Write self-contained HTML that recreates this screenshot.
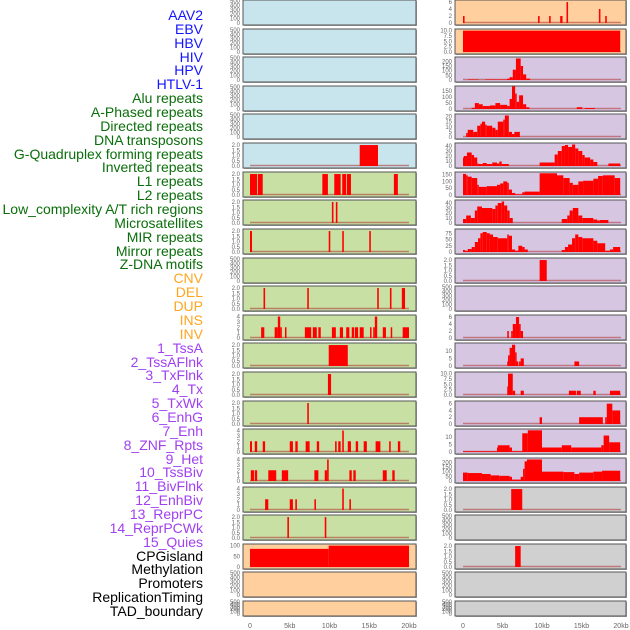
<!DOCTYPE html>
<html><head><meta charset="utf-8"><style>
html,body{margin:0;padding:0;background:#fff;}
body{width:630px;height:630px;overflow:hidden;position:relative;font-family:"Liberation Sans",sans-serif;}
#labels div{position:absolute;right:427px;font-size:14px;line-height:14px;white-space:nowrap;}
</style></head><body>
<div id="labels"></div>
<svg id="chart" width="630" height="630" style="position:absolute;left:0;top:0"></svg>
<script>
const labelNames=["AAV2","EBV","HBV","HIV","HPV","HTLV-1","Alu repeats","A-Phased repeats","Directed repeats","DNA transposons","G-Quadruplex forming repeats","Inverted repeats","L1 repeats","L2 repeats","Low_complexity A/T rich regions","Microsatellites","MIR repeats","Mirror repeats","Z-DNA motifs","CNV","DEL","DUP","INS","INV","1_TssA","2_TssAFlnk","3_TxFlnk","4_Tx","5_TxWk","6_EnhG","7_Enh","8_ZNF_Rpts","9_Het","10_TssBiv","11_BivFlnk","12_EnhBiv","13_ReprPC","14_ReprPCWk","15_Quies","CPGisland","Methylation","Promoters","ReplicationTiming","TAD_boundary"];
const labelGroups=[0,0,0,0,0,0,1,1,1,1,1,1,1,1,1,1,1,1,1,2,2,2,2,2,3,3,3,3,3,3,3,3,3,3,3,3,3,3,3,4,4,4,4,4];
const groupColors=["#1414ff","#0a6e0a","#ffa520","#a040f0","#000"];

// Left column tracks: starts (kb) and values, each segment runs to next start
const L_starts=[
 null,null,null,null,null,
 [13.8,16.1],
 [0,0.9,1.0,1.6,9.1,9.8,10.6,11.4,11.6,12.1,12.2,12.7,18.1,18.6],
 [10.3,10.5,10.8,11.0],
 [0,0.25,9.9,10.1,11.6,11.8,15.0,15.2],
 null,
 [1.7,1.9,7.2,7.4,16.0,16.2,17.6,17.8,19.1,19.5],
 [1.4,1.8,3.1,3.5,3.8,4.0,4.4,4.5,6.9,7.7,7.9,8.4,8.6,8.9,10.3,10.8,11.3,11.7,12.1,12.5,12.8,13.1,13.2,13.6,13.8,14.3,15.1,15.2,15.5,15.7,16.0,16.7,17.1,17.7,17.8,19.2,20.0],
 [9.9,12.3],
 [9.8,10.2],
 [7.2,7.4],
 [0,0.25,0.6,0.9,1.6,1.9,5.0,5.4,5.7,6.0,7.0,7.5,8.4,8.7,10.7,10.9,11.1,11.4,11.6,11.8,12.3,12.7,13.3,13.6,14.3,14.7,15.8,16.4,17.5,17.7,18.6,18.9],
 [0.1,0.5,0.6,0.9,2.3,3.3,4.0,4.8,8.1,8.6,9.4,9.7,9.9,12.5,12.8,13.0,13.3,16.7,17.2,17.9,18.2],
 [1.9,2.3,5.0,5.4,5.7,5.9,8.1,8.3,11.6,11.8,12.5,12.7],
 [4.7,4.9,9.4,9.6],
 [0,9.9,20.0],
 null,null];
const L_vals=[
 null,null,null,null,null,
 [2,0],
 [2,0,2,0,2,0,2,0,2,0,2,0,2,0],
 [2,0,2,0],
 [2,0,2,0,2,0,2,0],
 null,
 [2,0,2,0,2,0,2,0,2,0],
 [2,0,2,4,2,0,2,0,2,0,2,0,2,0,2,0,2,0,2,0,2,0,2,0,2,0,2,0,2,4,0,2,0,2,0,2,0],
 [2,0],[2,0],[2,0],
 [2,0,2,0,2,0,2,0,2,0,2,0,2,0,2,0,2,0,4,0,2,0,2,0,2,0,2,0,2,0,2,0],
 [2,0,2,0,2,0,2,0,2,0,2,4,0,2,0,2,0,2,0,2,0],
 [2,0,2,0,2,0,2,0,4,0,2,0],
 [2,0,2,0],
 [85,100,0],
 null,null];
const L_ymax=[500,500,500,500,500,2.1,2.1,2.1,2.1,500,2.1,4.1,2.1,2.1,2.1,4.1,4.1,4.1,2.1,103,500,500];
const L_ticks=[null,null,null,null,null,null,null,null,null,null,null,[0,1,2,3,4],null,null,null,[0,1,2,3,4],[0,1,2,3,4],[0,1,2,3,4],null,[0,50,100],null,null];

// Right column tracks
const R_starts=[
 [0,0.2,9.5,9.7,10.9,11.1,12.3,12.6,13.1,13.3,17.2,17.4,18.0,18.2],
 [0,19.9],
 [0.6,2.0,2.8,4.9,5.6,5.9,6.3,6.7,7.3,7.6,8.0,8.5],
 [1.1,1.5,2.0,2.5,3.4,4.1,4.7,5.6,5.9,6.2,6.6,6.8,7.1,7.6,8.0,8.4,14.4,15.1,15.4,16.7],
 [0.4,0.6,1.3,1.8,2.2,2.4,2.8,3.0,3.7,4.1,4.4,5.1,5.3,5.8,6.2,6.5,7.2],
 [0,0.1,0.5,1.1,1.4,1.8,2.0,2.5,3.0,3.7,4.3,4.6,4.9,5.8,9.7,11.6,12.0,12.5,12.9,13.3,13.8,14.2,14.6,15.1,15.4,16.1,16.5,17.0,18.4,19.9],
 [0,0.4,0.6,1.1,1.8,2.0,3.0,4.3,4.7,5.1,5.6,5.8,6.2,6.6,7.5,7.8,9.7,11.9,12.7,13.5,13.9,14.6,15.2,16.5,17.1,17.7,19.2,19.9],
 [0,0.4,1.0,1.5,1.8,2.4,3.7,4.1,4.4,4.9,5.2,5.6,5.9,6.3,12.5,13.2,13.5,13.9,14.6,15.1,16.5,17.0,17.3,18.4],
 [0,0.25,0.6,1.1,1.5,1.9,2.2,2.5,3.0,3.4,3.8,4.4,5.6,5.8,6.2,6.6,7.0,7.5,7.8,8.2,12.5,12.9,13.3,13.8,14.2,14.6,15.1,16.5,17.0,18.0,18.6,19.0,19.9],
 [9.7,10.6],
 null,
 [5.6,5.8,6.1,6.3,6.7,7.1,7.3,7.6],
 [5.6,5.7,5.9,6.2,6.6,6.7,7.0,7.1,7.3,7.7,14.1,14.7],
 [5.6,5.7,6.3,6.6,7.3,7.7,13.4,14.3,14.4,14.9,16.5,16.8,18.6,19.9],
 [9.7,10.0,14.7,17.7,18.0,18.2,18.9,19.9],
 [0,4.3,4.4,5.9,6.2,7.5,8.2,10.0,12.5,13.7,17.5,17.8,18.5,19.9],
 [0,0.6,2.4,3.5,4.6,5.9,6.2,7.3,7.6,7.8,8.1,10.0,12.7,14.1,14.7,16.5,17.6,19.9],
 [6.1,7.5],
 null,
 [6.6,7.3],
 null,null];
const R_vals=[
 [2,0,2,0,2,0,2,0,6,0,4,0,2,0],
 [10,0],
 [5,0,5,5,15,30,110,230,150,60,15,0],
 [10,50,40,25,30,50,35,25,85,190,130,60,115,40,15,0,15,0,8,0],
 [4,7,5,11,13,15,12,11,9,7,15,17,21,5,3,5,0],
 [17,20,27,22,17,5,4,6,4,7,5,9,4,0,7,23,30,40,42,38,43,35,30,22,17,13,8,0,5,0],
 [155,145,135,125,75,60,65,75,85,100,90,40,15,5,20,25,160,145,125,90,75,100,105,120,140,145,125,0],
 [8,15,10,25,33,30,28,35,40,43,35,25,10,0,8,15,25,30,15,10,7,5,6,0],
 [8,5,12,20,40,55,75,80,75,70,60,55,70,65,10,5,25,20,10,0,8,20,30,55,70,60,55,45,35,5,10,20,0],
 [2,0],
 null,
 [2,0,2,4,6,4,2,0],
 [3,7,12,14,9,3,0,3,5,0,3,0],
 [4,10,2,0,2,0,2,0,2,0,2,0,2,0],
 [2,0,2,0,2,6,4,0],
 [0.5,3,4.5,3,0.5,12.5,14.5,3,4.5,3,4.5,11,6.5,0],
 [90,85,75,60,55,45,15,45,130,210,230,100,95,75,90,100,110,0],
 [2,0],
 null,
 [2,0],
 null,null];
const R_ymax=[6.3,10.3,235,185,21.5,44,162,44,88,2.1,500,6.3,14.5,10.3,6.5,14.7,235,2.1,500,2.1,500,500];
const R_ticks=[[0,2,4,6],[0,2.5,5,7.5,10],[0,50,100,150,200],[0,50,100,150],[0,5,10,15,20],[0,10,20,30,40],[0,50,100,150],[0,10,20,30,40],[0,25,50,75],null,null,[0,2,4,6],[0,5,10],[0,2.5,5,7.5,10],[0,2,4,6],[0,5,10],[0,50,100,150,200],null,null,null,null,null];

const xTickVals=[0,5,10,15,20];
const xTickText=["0","5kb","10kb","15kb","20kb"];

const leftBg=["#c8e4ec","#c8e4ec","#c8e4ec","#c8e4ec","#c8e4ec","#c8e4ec","#c8e0a4","#c8e0a4","#c8e0a4","#c8e0a4","#c8e0a4","#c8e0a4","#c8e0a4","#c8e0a4","#c8e0a4","#c8e0a4","#c8e0a4","#c8e0a4","#c8e0a4","#ffd09e","#ffd09e","#ffd09e"];
const rightBg=["#ffd09e","#ffd09e","#d6c6e2","#d6c6e2","#d6c6e2","#d6c6e2","#d6c6e2","#d6c6e2","#d6c6e2","#d6c6e2","#d6c6e2","#d6c6e2","#d6c6e2","#d6c6e2","#d6c6e2","#d6c6e2","#d6c6e2","#d0d0d0","#d0d0d0","#d0d0d0","#d0d0d0","#d0d0d0"];

// labels
const lab=document.getElementById('labels');
labelNames.forEach((n,i)=>{
  const d=document.createElement('div');
  
  
  d.style.top=(8+i*13.86)+'px';
  d.style.color=groupColors[labelGroups[i]];
  d.textContent=n;
  lab.appendChild(d);
});

const NS="http://www.w3.org/2000/svg";
const svg=document.getElementById('chart');
function mk(t,a,p){const e=document.createElementNS(NS,t);for(const k in a)e.setAttribute(k,a[k]);(p||svg).appendChild(e);return e;}
const cols=[{x0:243,x1:416,zero:250,scale:7.95,starts:L_starts,vals:L_vals,ymax:L_ymax,ticks:L_ticks,bg:leftBg,name:'left'},
            {x0:455,x1:626,zero:463,scale:7.9,starts:R_starts,vals:R_vals,ymax:R_ymax,ticks:R_ticks,bg:rightBg,name:'right'}];
function fmt(v,step){return step<1?v.toFixed(1):(Number.isInteger(step*2)&&step%1?v.toFixed(1):String(v));}
cols.forEach(c=>{
  const xs=kb=>c.zero+kb*c.scale;
  for(let r=0;r<22;r++){
    const top=Math.round(r*28.62);
    const h=r===21?15:25;
    const g=mk('g',{});
    
    
    mk('rect',{x:c.x0+1,y:top+1,width:c.x1-c.x0,height:h,fill:'#aaa'},g);
    mk('rect',{x:c.x0,y:top,width:c.x1-c.x0,height:h,fill:c.bg[r],stroke:'#555','stroke-width':1},g);
    const base=top+h-2, ptop=top+1;
    const ymax=c.ymax[r];
    const ys=v=>base-(v/ymax)*(base-ptop);
    // ticks
    let ticks=c.ticks[r];
    if(!ticks){ticks=ymax>=100&&ymax===500?[0,100,200,300,400,500]:[0,0.5,1,1.5,2];}
    const step=ticks[1]-ticks[0];
    ticks.forEach(t=>{
      const tx=mk('text',{x:c.x0-3,y:ys(t)+2,'font-size':6,fill:'#666','text-anchor':'end','font-family':'Liberation Sans, sans-serif'},g);
      
      
      tx.textContent=(step%1!==0)?t.toFixed(1):String(t);
    });
    const st=c.starts[r], vl=c.vals[r];
    if(st){
      const bl=mk('line',{x1:xs(0),x2:xs(20),y1:base-0.5,y2:base-0.5,stroke:'#b04040','stroke-opacity':0.6,'stroke-width':1.5},g);
      
      
      for(let i=0;i<st.length-1;i++){
        if(vl[i]<=0)continue;
        const x1=xs(st[i]),x2=xs(st[i+1]);
        const b=mk('rect',{x:x1,y:ys(vl[i]),width:Math.max(1.5,x2-x1),height:base-ys(vl[i]),fill:'#ff0000'},g);
        
        
      }
    }
  }
  xTickVals.forEach((v,i)=>{
    const t=mk('text',{x:xs(v),y:628,'font-size':7,fill:'#666','text-anchor':'middle','font-family':'Liberation Sans, sans-serif'});
    
    
    t.textContent=xTickText[i];
  });
});
</script>
</body></html>
